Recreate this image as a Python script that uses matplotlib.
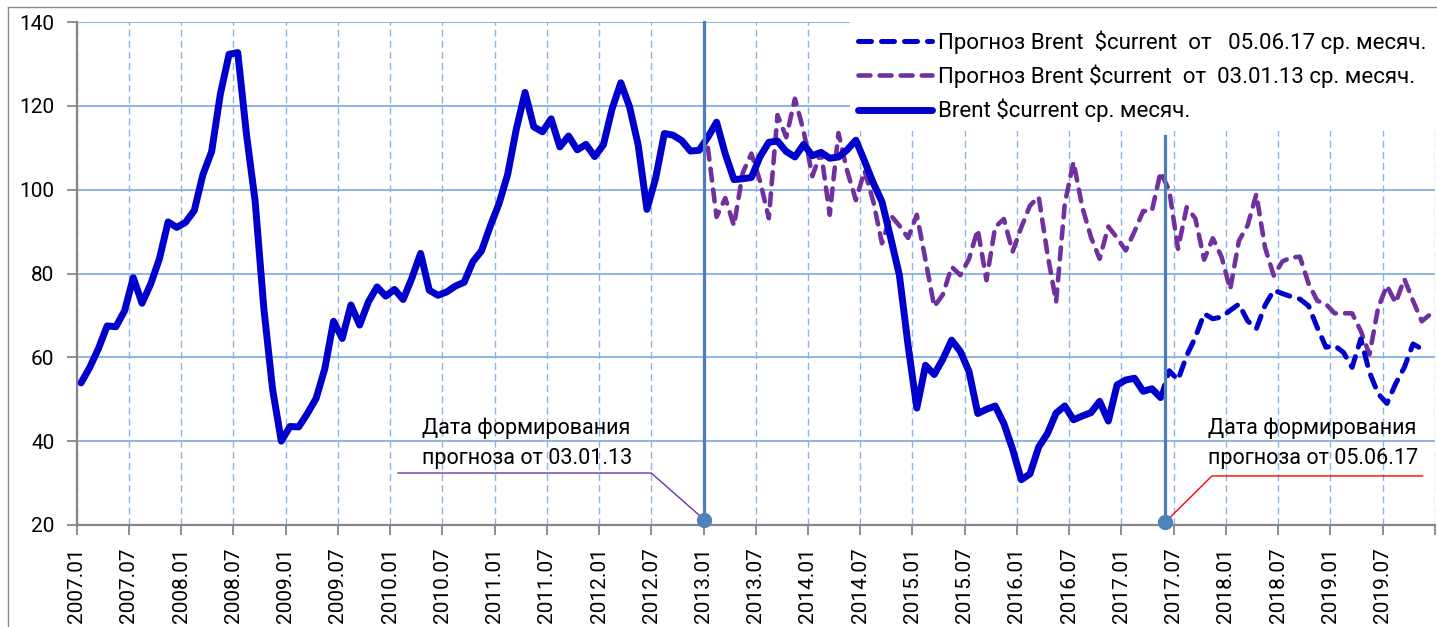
import numpy as np
import matplotlib
matplotlib.use("Agg")
import matplotlib.pyplot as plt
from matplotlib.lines import Line2D

plt.rcParams['font.family'] = ['Roboto', 'DejaVu Sans']

# ---------------- data ----------------
# monthly Brent, $current, 2007.01 .. 2017.05
brent_actual = [
    53.9, 57.6, 62.1, 67.5, 67.3, 71.1, 79.0, 72.9, 77.5, 83.5, 92.3, 91.0,          # 2007
    92.2, 95.0, 103.6, 109.1, 122.8, 132.3, 132.7, 113.2, 97.2, 71.6, 52.4, 40.0,    # 2008
    43.5, 43.4, 46.6, 50.2, 57.3, 68.6, 64.5, 72.5, 67.7, 73.2, 76.8, 74.6,          # 2009
    76.2, 73.8, 78.9, 84.8, 76.0, 74.8, 75.6, 77.0, 77.9, 82.8, 85.4, 91.3,          # 2010
    96.6, 103.6, 114.5, 123.2, 115.0, 113.8, 116.9, 110.2, 112.8, 109.5, 110.8, 107.9,  # 2011
    110.7, 119.3, 125.5, 119.8, 110.6, 95.3, 102.7, 113.4, 113.0, 111.7, 109.2, 109.4,  # 2012
    112.5, 116.1, 108.5, 102.4, 102.6, 102.9, 107.9, 111.3, 111.6, 109.1, 107.8, 110.8, # 2013
    108.1, 108.9, 107.5, 107.8, 109.5, 111.8, 106.8, 101.6, 97.1, 88.5, 79.6, 62.8,     # 2014
    47.9, 58.1, 55.9, 59.6, 64.1, 61.4, 56.6, 46.6, 47.6, 48.4, 44.2, 38.1,          # 2015
    30.8, 32.2, 38.6, 41.8, 46.7, 48.4, 45.1, 46.0, 46.8, 49.5, 44.8, 53.4,          # 2016
    54.6, 55.0, 51.9, 52.5, 50.4,                                                    # 2017
]
# forecast made 03.01.13, 2013.01 .. 2019.12
forecast_2013 = [
    110.0, 93.5, 98.0, 91.4, 104.0, 108.6, 102.0, 93.2, 117.8, 112.5, 121.7, 114.0,  # 2013
    103.2, 109.0, 94.0, 113.5, 104.5, 97.5, 104.5, 97.2, 87.2, 93.9, 91.4, 88.5,     # 2014
    94.0, 83.2, 72.1, 75.0, 81.6, 79.6, 83.5, 90.5, 78.4, 91.1, 93.0, 85.2,          # 2015
    91.0, 96.2, 98.3, 84.8, 73.2, 96.7, 106.6, 95.9, 88.7, 83.5, 91.2, 88.5,         # 2016
    85.5, 90.0, 94.9, 94.9, 104.2, 99.8, 85.9, 95.8, 93.1, 83.3, 88.4, 84.0,         # 2017
    76.2, 87.8, 91.5, 98.9, 86.2, 79.5, 82.9, 83.8, 84.0, 77.6, 73.5, 72.7,          # 2018
    70.5, 70.5, 70.5, 66.3, 60.7, 71.9, 77.1, 73.0, 78.7, 73.5, 68.6, 70.3,          # 2019
]
# forecast made 05.06.17, 2017.05 .. 2019.11
forecast_2017 = [
    50.4, 56.8, 54.6, 60.4, 64.8, 70.4, 69.2, 69.6,                                  # 2017
    71.2, 72.7, 68.7, 66.8, 72.4, 76.0, 75.2, 74.5, 73.9, 72.3, 67.1, 62.4,          # 2018
    62.8, 61.2, 57.6, 64.4, 56.4, 51.3, 49.0, 53.7, 57.6, 63.2, 62.0,                # 2019
]
tick_labels = ['2007.01', '2007.07', '2008.01', '2008.07', '2009.01', '2009.07',
               '2010.01', '2010.07', '2011.01', '2011.07', '2012.01', '2012.07',
               '2013.01', '2013.07', '2014.01', '2014.07', '2015.01', '2015.07',
               '2016.01', '2016.07', '2017.01', '2017.07', '2018.01', '2018.07',
               '2019.01', '2019.07', '']
legend_labels = ['Прогноз Brent  \\$current  от   05.06.17 ср. месяч.',
                 'Прогноз Brent \\$current  от  03.01.13 ср. месяч.',
                 'Brent \\$current ср. месяч.']
note_lines_2013 = ['Дата формирования', 'прогноза от 03.01.13']
note_lines_2017 = ['Дата формирования', 'прогноза от 05.06.17']

# month offsets (months since 2007.01)
start_actual = 0
start_f2013 = 72
start_f2017 = 124
n_months = 156
date_2013 = 72.07   # 03.01.13
date_2017 = 125.0   # 05.06.17

# ---------------- figure ----------------
W, H = 1437, 627
fig = plt.figure(figsize=(W / 100, H / 100), dpi=100)
L, R, T, B = 76.7, 1434.8, 22, 525
ax = fig.add_axes([L / W, 1 - B / H, (R - L) / W, (B - T) / H])

BLUE = '#0000CC'
PURPLE = '#7030A0'
GRID = '#8EB4E3'
MARK = '#4F81BD'

xa = np.arange(start_actual, start_actual + len(brent_actual)) + 0.5
x13 = np.arange(start_f2013, start_f2013 + len(forecast_2013)) + 0.5
x17 = np.arange(start_f2017, start_f2017 + len(forecast_2017)) + 0.5

l13, = ax.plot(x13, forecast_2013, color=PURPLE, lw=3.3, dashes=(2.6, 2.0),
               dash_capstyle='round', solid_joinstyle='round', zorder=3)
l17, = ax.plot(x17, forecast_2017, color=BLUE, lw=3.6, dashes=(2.6, 2.0),
               dash_capstyle='round', zorder=4)
la, = ax.plot(xa, brent_actual, color=BLUE, lw=5.0, solid_capstyle='round',
              solid_joinstyle='round', zorder=5)

# vertical marker lines for forecast dates
ax.plot([date_2013, date_2013], [21.3, 140], color='#4A7EBB', lw=2.3, zorder=6, clip_on=False)
ax.plot([date_2013], [21.3], 'o', color=MARK, ms=10, zorder=7, clip_on=False)
ax.plot([date_2017, date_2017], [20.6, 112.8], color='#4A7EBB', lw=2.3, zorder=6, clip_on=False)
ax.plot([date_2017], [20.6], 'o', color=MARK, ms=10, zorder=7, clip_on=False)

# callouts
ax.plot([36.9, 66.0, date_2013], [32.4, 32.4, 21.3], color=PURPLE, lw=1.0, zorder=6)
ax.plot([date_2017, 130.4, 154.6], [20.6, 31.7, 31.7], color='red', lw=1.0, zorder=6)
ax.text(39.7, 43.0, note_lines_2013[0], fontsize=15.5, va='center', ha='left', zorder=8)
ax.text(39.7, 35.8, note_lines_2013[1], fontsize=15.5, va='center', ha='left', zorder=8)
ax.text(130.0, 43.0, note_lines_2017[0], fontsize=15.5, va='center', ha='left', zorder=8)
ax.text(130.0, 35.8, note_lines_2017[1], fontsize=15.5, va='center', ha='left', zorder=8)

# axes
ax.set_xlim(0, n_months)
ax.set_ylim(20, 140)
ax.set_yticks(np.arange(20, 141, 20))
ax.set_xticks(np.arange(0, n_months + 1, 6))
ax.set_xticklabels(tick_labels, rotation=90, fontsize=15)
ax.tick_params(axis='y', labelsize=15, length=7, width=1.3, color='#868686', pad=9)
ax.tick_params(axis='x', length=7, width=1.3, color='#868686', pad=9)
ax.yaxis.grid(True, color=GRID, lw=1.4, ls='-')
ax.xaxis.grid(True, color=GRID, lw=1.0, ls=(0, (5, 3)))
ax.set_axisbelow(True)
for s in ['top', 'right']:
    ax.spines[s].set_visible(False)
for s in ['left', 'bottom']:
    ax.spines[s].set_color('#868686')
    ax.spines[s].set_linewidth(1.6)
    ax.spines[s].set_zorder(2.5)

leg = ax.legend(handles=[l17, l13, la], labels=legend_labels,
                loc='upper left', bbox_to_anchor=((850 - L) / (R - L), 1.0),
                frameon=True, facecolor='white', edgecolor='none', framealpha=1,
                fancybox=False, fontsize=16, handlelength=3.3, handletextpad=0.3,
                labelspacing=0.48, borderpad=0.38, borderaxespad=0)
leg.set_zorder(9)

# document frame (left & top edges)
fig.add_artist(Line2D([8 / W, 8 / W], [0, 1 - 7 / H], color='#8c8c8c', lw=1.0))
fig.add_artist(Line2D([8 / W, 1], [1 - 7 / H, 1 - 7 / H], color='#8c8c8c', lw=1.0))

fig.savefig('out.png', dpi=100)
